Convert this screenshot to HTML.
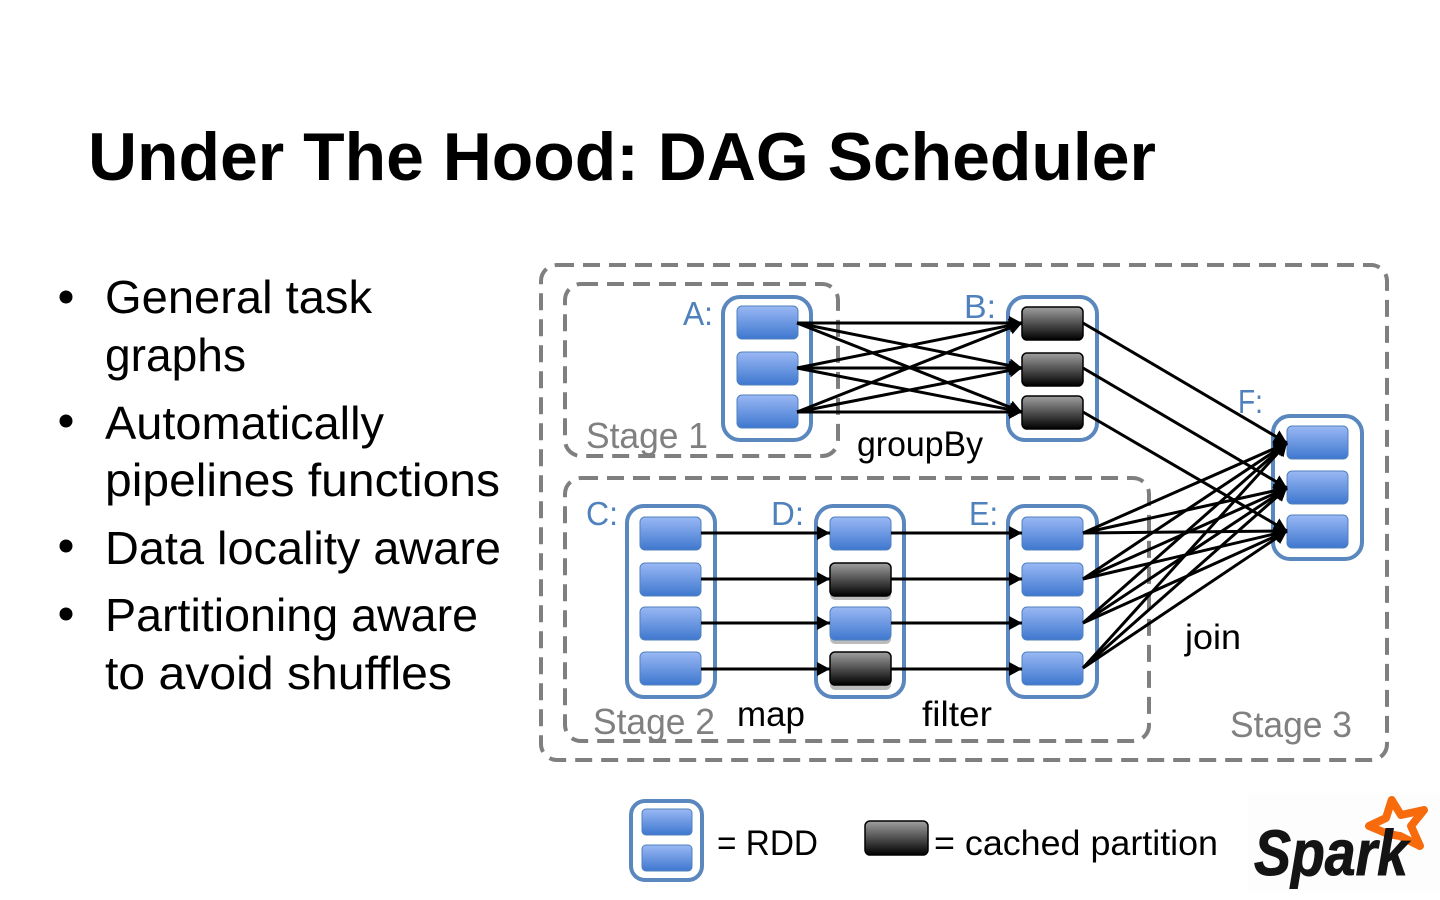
<!DOCTYPE html>
<html><head><meta charset="utf-8"><title>Under The Hood: DAG Scheduler</title>
<style>
html,body{margin:0;padding:0;background:#fff;width:1440px;height:900px;overflow:hidden}
svg{display:block}
text{font-family:"Liberation Sans",sans-serif}
.b{font-size:46px;fill:#000}
.l{font-size:33px;fill:#4f81bd}
.s{font-size:36px;fill:#808080}
.o{font-size:35px;fill:#000}
.c{fill:#fff;stroke:#5a87bd;stroke-width:4}
.d{fill:none;stroke:#7f7f7f;stroke-width:4;stroke-dasharray:17 9}
.e line{stroke:#000;stroke-width:3;marker-end:url(#a)}
</style></head><body>
<svg width="1440" height="900" viewBox="0 0 1440 900" xmlns="http://www.w3.org/2000/svg">
<defs>
<linearGradient id="gb" x1="0" y1="0" x2="0" y2="1"><stop offset="0" stop-color="#9ab8f4"/><stop offset="1" stop-color="#3e77cf"/></linearGradient>
<linearGradient id="gk" x1="0" y1="0" x2="0" y2="1"><stop offset="0" stop-color="#a0a0a0"/><stop offset="1" stop-color="#000"/></linearGradient>
<marker id="a" markerUnits="userSpaceOnUse" markerWidth="15" markerHeight="15" refX="13" refY="7" orient="auto"><path d="M0 0L13 7L0 14z" fill="#000"/></marker>
<rect id="nb" width="61" height="33" rx="5" fill="url(#gb)" stroke="#4f81bd" stroke-width="1"/>
<rect id="nk" width="61" height="33" rx="5" fill="url(#gk)" stroke="#000" stroke-width="1.5"/>
</defs>
<rect width="1440" height="900" fill="#fff"/>

<text x="88" y="180" font-size="68" font-weight="700" fill="#000" textLength="1068" lengthAdjust="spacingAndGlyphs">Under The Hood: DAG Scheduler</text>

<circle cx="66" cy="297" r="6.5"/><circle cx="66" cy="421" r="6.5"/><circle cx="66" cy="546" r="6.5"/><circle cx="66" cy="614" r="6.5"/>
<text class="b" x="105" y="313" textLength="267" lengthAdjust="spacingAndGlyphs">General task</text>
<text class="b" x="105" y="371" textLength="141" lengthAdjust="spacingAndGlyphs">graphs</text>
<text class="b" x="105" y="439" textLength="279" lengthAdjust="spacingAndGlyphs">Automatically</text>
<text class="b" x="105" y="496" textLength="395" lengthAdjust="spacingAndGlyphs">pipelines functions</text>
<text class="b" x="105" y="564" textLength="396" lengthAdjust="spacingAndGlyphs">Data locality aware</text>
<text class="b" x="105" y="631" textLength="373" lengthAdjust="spacingAndGlyphs">Partitioning aware</text>
<text class="b" x="105" y="689" textLength="347" lengthAdjust="spacingAndGlyphs">to avoid shuffles</text>

<rect class="d" x="541" y="265" width="846" height="495" rx="16"/>
<rect class="d" x="565" y="284" width="273" height="172" rx="16"/>
<rect class="d" x="565" y="478" width="584" height="263" rx="16"/>

<rect class="c" x="723" y="297" width="88" height="143" rx="17"/>
<rect class="c" x="1008" y="297" width="89" height="143" rx="17"/>
<rect class="c" x="1273" y="416" width="89" height="143" rx="17"/>
<rect class="c" x="627" y="506" width="88" height="191" rx="17"/>
<rect class="c" x="816" y="506" width="88" height="191" rx="17"/>
<rect class="c" x="1008" y="506" width="89" height="191" rx="17"/>

<use href="#nb" x="737" y="306"/><use href="#nb" x="737" y="352"/><use href="#nb" x="737" y="395"/>
<use href="#nk" x="1022" y="307"/><use href="#nk" x="1022" y="353"/><use href="#nk" x="1022" y="396"/>
<use href="#nb" x="1287" y="426"/><use href="#nb" x="1287" y="471"/><use href="#nb" x="1287" y="515"/>
<use href="#nb" x="640" y="517"/><use href="#nb" x="640" y="563"/><use href="#nb" x="640" y="607"/><use href="#nb" x="640" y="652"/>
<rect x="830" y="567" width="61" height="33" rx="5" fill="#bbb"/><rect x="830" y="611" width="61" height="33" rx="5" fill="#bbb"/><rect x="830" y="657" width="61" height="33" rx="5" fill="#bbb"/>
<use href="#nb" x="830" y="517"/><use href="#nk" x="830" y="563"/><use href="#nb" x="830" y="607"/><use href="#nk" x="830" y="652"/>
<use href="#nb" x="1022" y="517"/><use href="#nb" x="1022" y="563"/><use href="#nb" x="1022" y="607"/><use href="#nb" x="1022" y="652"/>

<g class="e">
<line x1="797" y1="323" x2="1022" y2="323"/><line x1="797" y1="323" x2="1022" y2="368"/><line x1="797" y1="323" x2="1022" y2="412"/>
<line x1="797" y1="368" x2="1022" y2="323"/><line x1="797" y1="368" x2="1022" y2="368"/><line x1="797" y1="368" x2="1022" y2="412"/>
<line x1="797" y1="412" x2="1022" y2="323"/><line x1="797" y1="412" x2="1022" y2="368"/><line x1="797" y1="412" x2="1022" y2="412"/>
<line x1="1083" y1="323" x2="1287" y2="443"/><line x1="1083" y1="368" x2="1287" y2="488"/><line x1="1083" y1="412" x2="1287" y2="531"/>
<line x1="1083" y1="533" x2="1287" y2="443"/><line x1="1083" y1="533" x2="1287" y2="488"/><line x1="1083" y1="533" x2="1287" y2="531"/>
<line x1="1083" y1="579" x2="1287" y2="443"/><line x1="1083" y1="579" x2="1287" y2="488"/><line x1="1083" y1="579" x2="1287" y2="531"/>
<line x1="1083" y1="623" x2="1287" y2="443"/><line x1="1083" y1="623" x2="1287" y2="488"/><line x1="1083" y1="623" x2="1287" y2="531"/>
<line x1="1083" y1="668" x2="1287" y2="443"/><line x1="1083" y1="668" x2="1287" y2="488"/><line x1="1083" y1="668" x2="1287" y2="531"/>
<line x1="701" y1="533" x2="830" y2="533"/><line x1="701" y1="579" x2="830" y2="579"/><line x1="701" y1="623" x2="830" y2="623"/><line x1="701" y1="669" x2="830" y2="669"/>
<line x1="891" y1="533" x2="1022" y2="533"/><line x1="891" y1="579" x2="1022" y2="579"/><line x1="891" y1="623" x2="1022" y2="623"/><line x1="891" y1="669" x2="1022" y2="669"/>
</g>

<text class="l" x="683" y="325" textLength="30" lengthAdjust="spacingAndGlyphs">A:</text>
<text class="l" x="964" y="318" textLength="32" lengthAdjust="spacingAndGlyphs">B:</text>
<text class="l" x="1238" y="413" textLength="25" lengthAdjust="spacingAndGlyphs">F:</text>
<text class="l" x="586" y="525" textLength="32" lengthAdjust="spacingAndGlyphs">C:</text>
<text class="l" x="771" y="525" textLength="33" lengthAdjust="spacingAndGlyphs">D:</text>
<text class="l" x="969" y="525" textLength="29" lengthAdjust="spacingAndGlyphs">E:</text>
<text class="s" x="586" y="448" textLength="122" lengthAdjust="spacingAndGlyphs">Stage 1</text>
<text class="s" x="593" y="734" textLength="122" lengthAdjust="spacingAndGlyphs">Stage 2</text>
<text class="s" x="1230" y="737" textLength="122" lengthAdjust="spacingAndGlyphs">Stage 3</text>
<text class="o" x="857" y="456" textLength="126" lengthAdjust="spacingAndGlyphs">groupBy</text>
<text class="o" x="737" y="726" textLength="68" lengthAdjust="spacingAndGlyphs">map</text>
<text class="o" x="922" y="726" textLength="70" lengthAdjust="spacingAndGlyphs">filter</text>
<text class="o" x="1185" y="649" textLength="56" lengthAdjust="spacingAndGlyphs">join</text>

<rect class="c" x="631" y="801" width="71" height="79" rx="14"/>
<rect x="642" y="809" width="50" height="26" rx="4" fill="url(#gb)" stroke="#4f81bd"/>
<rect x="642" y="845" width="50" height="26" rx="4" fill="url(#gb)" stroke="#4f81bd"/>
<text class="o" x="717" y="855" textLength="101" lengthAdjust="spacingAndGlyphs">= RDD</text>
<rect x="865" y="821" width="63" height="34" rx="5" fill="url(#gk)" stroke="#000" stroke-width="1.5"/>
<text class="o" x="934" y="855" textLength="284" lengthAdjust="spacingAndGlyphs">= cached partition</text>

<rect x="1248" y="793" width="192" height="98" fill="#fdfdfd"/>
<polygon points="1391.7,800 1401,815 1424,810 1411,826 1420,846 1400,836 1388,834 1369,826 1386,818" fill="#fff" stroke="#f76b0c" stroke-width="8" stroke-linejoin="round"/>
<text x="1254" y="875" font-size="64" font-weight="700" font-style="italic" fill="#141414" stroke="#141414" stroke-width="1" textLength="154" lengthAdjust="spacingAndGlyphs">Spark</text>
</svg>
</body></html>
